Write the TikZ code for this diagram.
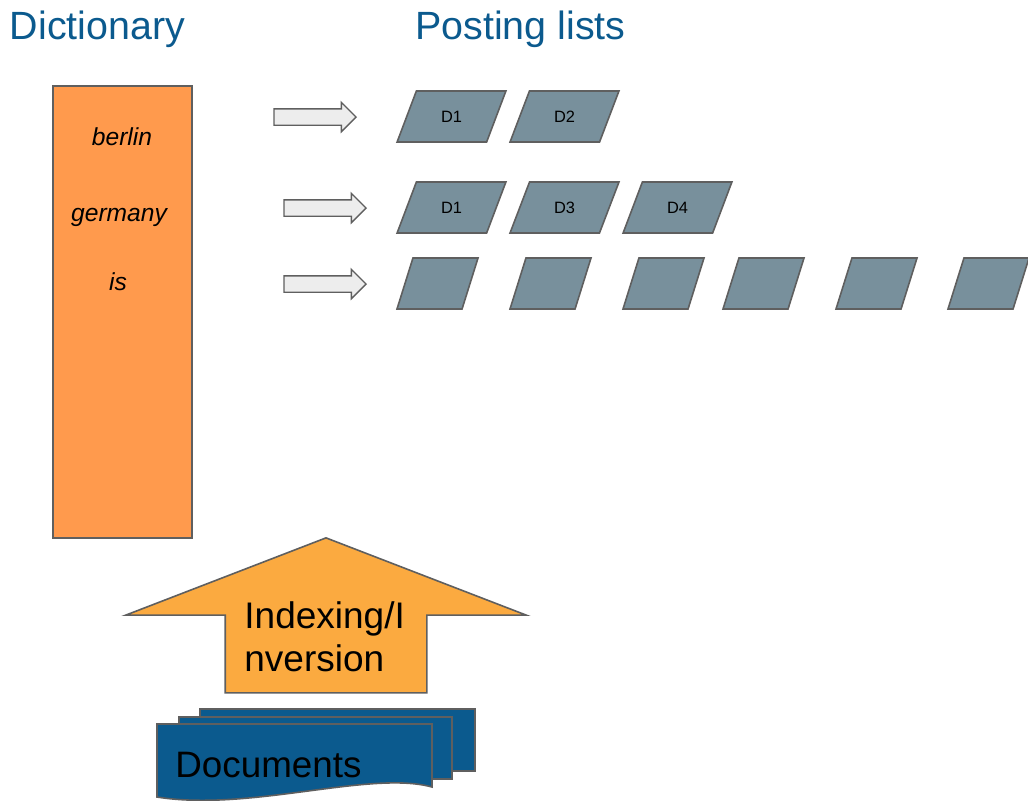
\documentclass[tikz,border=0pt]{standalone}
\usepackage{fontspec}
\setmainfont{Liberation Sans}
\usetikzlibrary{shapes.geometric,shapes.arrows}

\definecolor{titleblue}{HTML}{0B5A8E}
\definecolor{dictorange}{HTML}{FF9A4D}
\definecolor{arroworange}{HTML}{FBAA40}
\definecolor{postgray}{HTML}{78909C}
\definecolor{edgegray}{HTML}{5F5F5F}

\begin{document}
\begin{tikzpicture}[x=0.5pt,y=-0.5pt,
  title/.style={font=\fontsize{19.7}{23}\selectfont, text=titleblue, anchor=base west, inner sep=0},
  term/.style={font=\fontsize{12.3}{14}\selectfont\itshape, anchor=base, inner sep=0},
  pointer/.style={single arrow, draw=edgegray, fill=white!93!black, line width=0.7pt,
    minimum width=14pt, single arrow head extend=3.25pt, minimum height=41pt,
    inner xsep=0, inner ysep=3.75pt, anchor=tip},
  posting/.style={trapezium, trapezium stretches=true, draw=edgegray, fill=postgray, line width=0.8pt,
    minimum height=25.5pt, inner sep=2pt, font=\fontsize{8.2}{10}\selectfont},
  wide/.style={posting, trapezium left angle=67.6, trapezium right angle=112.4, minimum width=54.5pt},
  narrow/.style={posting, trapezium left angle=72, trapezium right angle=108, minimum width=40.5pt},
  sheet/.style={draw=edgegray, fill=titleblue, line width=0.8pt}]
\useasboundingbox (0,0) rectangle (1028,800);

\node[title] (dict) at (9.5,39) {Dictionary};
\node[title] (post) at (415,39) {Posting lists};

% dictionary column
\node[draw=edgegray, fill=dictorange, line width=0.8pt, minimum width=69.5pt, minimum height=226pt] (terms) at (122.5,312) {};
\node[term] (berlin) at (122,145) {berlin};
\node[term] (germany) at (119,221) {germany};
\node[term] (is) at (118,290) {is};

\node[pointer] (p1) at (357,117) {};
\node[pointer] (p2) at (367,208) {};
\node[pointer] (p3) at (367,284) {};

% posting lists
\foreach \doc/\x in {D1/451.5, D2/564.5}
  \node[wide] (b\doc) at (\x,116.5) {\doc};
\foreach \doc/\x in {D1/451.5, D3/564.5, D4/677.5}
  \node[wide] (g\doc) at (\x,207.5) {\doc};
\foreach \x [count=\i] in {437.5,550.5,663.5,763.5,876.5,988.5}
  \node[narrow] (is\i) at (\x,283.5) {};

% indexing arrow
\node[single arrow, shape border rotate=90, draw=edgegray, fill=arroworange, line width=0.8pt,
  minimum width=199.5pt, single arrow head extend=49.75pt, single arrow tip angle=137.8,
  minimum height=77.5pt, inner xsep=50pt, inner ysep=0, anchor=tip] (inv) at (326,537) {};
\node[align=left, font=\fontsize{18.5}{21.5}\selectfont, anchor=north west, inner sep=0] (invtext) at (244,601) {Indexing/I\\nversion};

% document stack
\draw[sheet] (200,709) rectangle (475,771);
\draw[sheet] (179,717) rectangle (452,779);
\draw[sheet] (157,724) -- (432,724) -- (432,787) .. controls (370,770) and (250,812) .. (157,797) -- cycle;
\node[font=\fontsize{18.4}{21}\selectfont, anchor=base west, inner sep=0] (docs) at (175,777) {Documents};

\end{tikzpicture}
\end{document}
